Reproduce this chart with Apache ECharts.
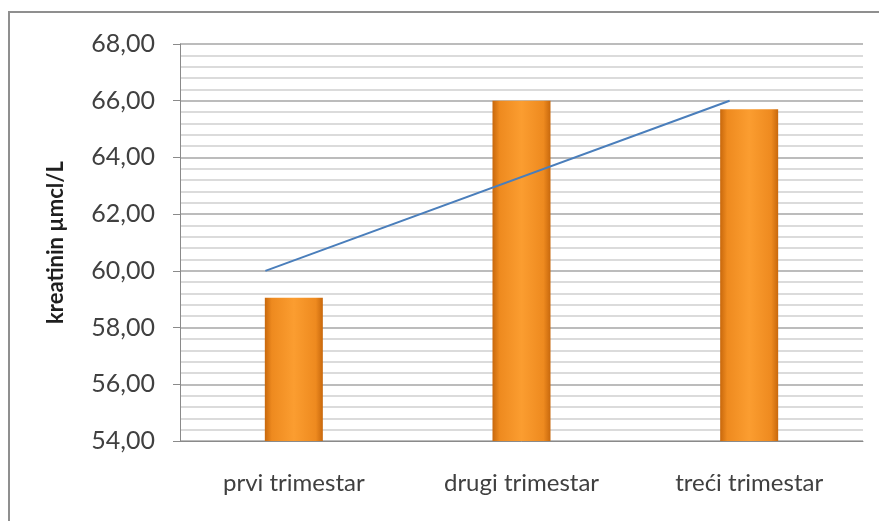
<!DOCTYPE html>
<html>
<head>
<meta charset="utf-8">
<script src="https://cdn.jsdelivr.net/npm/echarts@6/dist/echarts.min.js"></script>
<style>html,body{margin:0;padding:0;background:#fff;}#c{width:879px;height:521px;}</style>
</head>
<body>
<div id="c"></div>
<script>
var categories = ['prvi trimestar', 'drugi trimestar', 'treći trimestar'];
var creatinine = [59.05, 66.0, 65.7];
var trendX = [0.375, 2.414];
var trendY = [60.0, 66.0];
var yTicks = { min: 54, max: 68, interval: 2 };
var axisName = 'kreatinin µmcl/L';

var chart = echarts.init(document.getElementById('c'), null, { renderer: 'canvas' });
var font = 'Lato, "Open Sans", "Noto Sans", sans-serif';
chart.setOption({
  backgroundColor: '#ffffff',
  animation: false,
  graphic: [{
    type: 'rect', silent: true, z: -1,
    shape: { x: 9, y: 12, width: 900, height: 600 },
    style: { fill: 'none', stroke: '#8f8f8f', lineWidth: 2 }
  }],
  grid: { left: 180, right: 16, top: 44, bottom: 80 },
  xAxis: [{
    type: 'category',
    data: categories,
    axisLine: { show: true, lineStyle: { color: '#8a8a8a', width: 1 } },
    axisTick: { show: false },
    axisLabel: { color: '#404040', fontFamily: font, fontSize: 24, margin: 30 }
  }, {
    type: 'value', min: 0, max: 3, show: false
  }],
  yAxis: {
    type: 'value',
    min: yTicks.min, max: yTicks.max, interval: yTicks.interval,
    name: axisName,
    nameLocation: 'middle',
    nameGap: 113,
    nameRotate: 90,
    nameTextStyle: { color: '#1f1f1f', fontFamily: font, fontSize: 22, fontWeight: 'bold' },
    axisLine: { show: true, lineStyle: { color: '#8a8a8a', width: 1 } },
    axisTick: { show: true, length: 7, lineStyle: { color: '#8a8a8a' } },
    axisLabel: {
      color: '#404040', fontFamily: font, fontSize: 25, margin: 25,
      formatter: function (v) { return v.toFixed(2).replace('.', ','); }
    },
    splitLine: { show: true, lineStyle: { color: '#a6a6a6', width: 1.5 } },
    minorTick: { show: false, splitNumber: 5 },
    minorSplitLine: { show: true, lineStyle: { color: '#cfcfcf', width: 1.5 } }
  },
  series: [{
    type: 'bar',
    data: creatinine,
    barWidth: 58,
    itemStyle: {
      color: new echarts.graphic.LinearGradient(0, 0, 1, 0, [
        { offset: 0, color: '#c8680c' },
        { offset: 0.12, color: '#ee8a1f' },
        { offset: 0.5, color: '#fb9d30' },
        { offset: 0.88, color: '#ee8a1f' },
        { offset: 1, color: '#c8680c' }
      ])
    },
    z: 2
  }, {
    type: 'line',
    xAxisIndex: 1,
    data: trendX.map(function (x, i) { return [x, trendY[i]]; }),
    symbol: 'none',
    lineStyle: { color: '#4a7ebb', width: 2 },
    z: 3
  }]
});
</script>
</body>
</html>
